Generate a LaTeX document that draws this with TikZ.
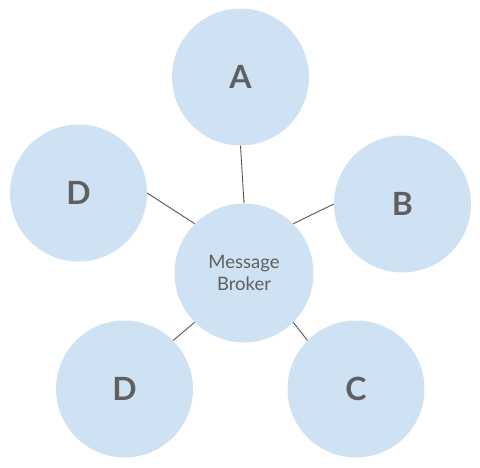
\documentclass[tikz,border=0pt]{standalone}
\usepackage{fontspec}
\setmainfont{Lato}
\usepackage{tikz}
\usepackage{xcolor}
\definecolor{bubble-blue}{HTML}{CFE2F3}
\definecolor{label-gray}{HTML}{5F5F5F}
\definecolor{link-gray}{HTML}{555555}
\tikzset{
    client-circle/.style = {circle, fill=bubble-blue, draw=none, minimum size=137pt, inner sep=0pt, text=label-gray, font=\fontsize{32}{36}\selectfont\bfseries},
    broker-circle/.style = {circle, fill=bubble-blue, draw=none, minimum size=139pt, inner sep=0pt, text=label-gray, align=center, font=\fontsize{18.5}{21.7}\selectfont},
    link-line/.style = {draw=link-gray, line width=0.9pt},
}

\begin{document}
\begin{tikzpicture}[x=1pt,y=1pt]
\useasboundingbox (0,0) rectangle (480,467);
\node [broker-circle] (broker) at (244,194) {Message\\Broker};
\node [client-circle] (a) at (240.5,390) {A};
\node [client-circle] (b) at (402.5,263) {B};
\node [client-circle] (c) at (356,78) {C};
\node [client-circle] (d-top) at (78.5,274) {D};
\node [client-circle] (d-bottom) at (124.5,78) {D};
\draw [link-line] (a.south) -- (broker.north);
\draw [link-line] (b.west) -- (broker.45);
\draw [link-line] (c.135) -- (broker.-45);
\draw [link-line] (d-top.east) -- (broker.135);
\draw [link-line] (d-bottom.45) -- (broker.225);
\end{tikzpicture}
\end{document}
